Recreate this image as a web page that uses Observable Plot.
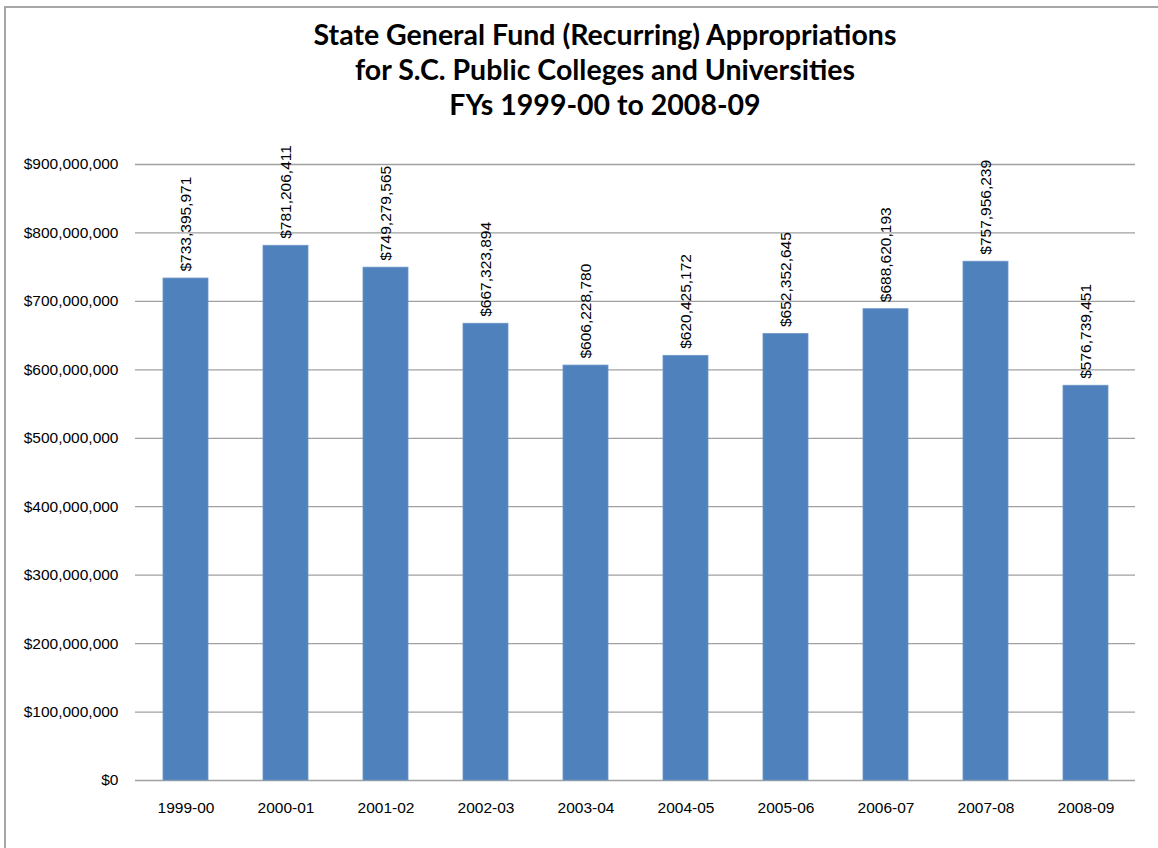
<!DOCTYPE html>
<html>
<head>
<meta charset="utf-8">
<script src="https://cdn.jsdelivr.net/npm/d3@7"></script>
<script src="https://cdn.jsdelivr.net/npm/@observablehq/plot@0.6"></script>
<style>
  html, body { margin: 0; padding: 0; background: #fff; }
  body { width: 1158px; height: 848px; position: relative; overflow: hidden; font-family: "Liberation Sans", Arial, sans-serif; }
  #frame { position: absolute; left: 4px; top: 6px; width: 1200px; height: 900px; border-left: 2px solid #a6a6a6; border-top: 2px solid #a6a6a6; box-sizing: border-box; }
  #title { position: absolute; left: 0; top: 17px; width: 1210px; text-align: center; font-family: Lato, "Liberation Sans", sans-serif; font-weight: bold; font-size: 28.5px; line-height: 35px; color: #000; }
  #chart { position: absolute; left: 0; top: 140px; }
</style>
</head>
<body>
<div id="frame"></div>
<div id="title">State General Fund (Recurring) Appropriations<br>for S.C. Public Colleges and Universities<br>FYs 1999-00 to 2008-09</div>
<div id="chart"></div>
<script>
const years = ["1999-00","2000-01","2001-02","2002-03","2003-04","2004-05","2005-06","2006-07","2007-08","2008-09"];
const amounts = [733395971, 781206411, 749279565, 667323894, 606228780, 620425172, 652352645, 688620193, 757956239, 576739451];
const yTicks = [0, 100000000, 200000000, 300000000, 400000000, 500000000, 600000000, 700000000, 800000000, 900000000];

const data = years.map((y, i) => ({year: y, amount: amounts[i]}));
const money = d => "$" + d3.format(",")(d);

const chart = Plot.plot({
  width: 1158,
  height: 708,
  marginLeft: 135,
  marginRight: 23,
  marginTop: 24,
  marginBottom: 68,
  style: {fontFamily: "'Liberation Sans', Arial, sans-serif", fontSize: "15.5px", color: "#000", background: "transparent"},
  x: {domain: years, paddingInner: 0.55, paddingOuter: 0.275, label: null},
  y: {domain: [0, 900000000], label: null},
  marks: [
    Plot.ruleY(yTicks, {stroke: "#a0a0a0", strokeWidth: 1.3}),
    Plot.barY(data, {x: "year", y: "amount", fill: "#4f81bd", stroke: "#6d95c8", strokeWidth: 0.8}),
    Plot.text(data, {x: "year", y: "amount", text: d => money(d.amount), rotate: -90, textAnchor: "start", dy: -7, fontSize: 15.5, fill: "#000"}),
    Plot.axisY({ticks: yTicks, tickFormat: money, tickSize: 0, tickPadding: 17, fontSize: 15.5, label: null}),
    Plot.axisX({tickSize: 0, tickPadding: 21, fontSize: 15.5, label: null})
  ]
});
document.getElementById("chart").appendChild(chart);
</script>
</body>
</html>
